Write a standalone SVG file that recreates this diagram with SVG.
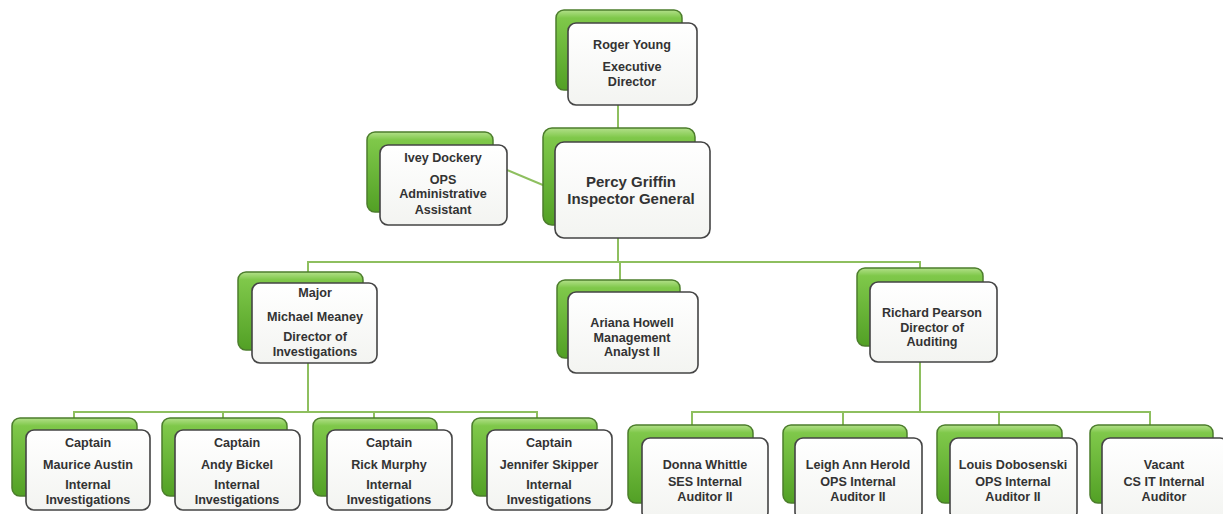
<svg xmlns="http://www.w3.org/2000/svg" width="1223" height="514" viewBox="0 0 1223 514">
<defs>
<linearGradient id="gg" x1="0" y1="0" x2="0" y2="1">
<stop offset="0" stop-color="#b3e08a"/>
<stop offset="0.1" stop-color="#7fc84a"/>
<stop offset="1" stop-color="#52a025"/>
</linearGradient>
<linearGradient id="wg" x1="0" y1="0" x2="0" y2="1">
<stop offset="0" stop-color="#ffffff"/>
<stop offset="1" stop-color="#f3f4f1"/>
</linearGradient>
</defs>
<style>
.g{fill:url(#gg);stroke:#4c7d2c;stroke-width:1.5}
.w{fill:url(#wg);stroke:#444;stroke-width:1.6}
.c{fill:none;stroke:#8ebf5f;stroke-width:2}
text{font-family:"Liberation Sans",Arial,sans-serif;font-weight:bold;font-size:12.6px;fill:#333;text-anchor:middle}
.big{font-size:15px}
</style>
<rect width="1223" height="514" fill="#ffffff"/>
<g id="connectors">
<line class="c" x1="618" y1="100" x2="618" y2="130"/>
<line class="c" x1="507" y1="170" x2="550" y2="188"/>
<polyline class="c" points="618,236 618,262"/>
<polyline class="c" points="308,274 308,262 920,262 920,270"/>
<line class="c" x1="620" y1="262" x2="620" y2="282"/>
<polyline class="c" points="308,360 308,412"/>
<polyline class="c" points="74,420 74,412 537,412 537,420"/>
<line class="c" x1="223" y1="412" x2="223" y2="420"/>
<line class="c" x1="374" y1="412" x2="374" y2="420"/>
<polyline class="c" points="920,360 920,412"/>
<polyline class="c" points="692,427 692,412 1150,412 1150,427"/>
<line class="c" x1="843" y1="412" x2="843" y2="427"/>
<line class="c" x1="999" y1="412" x2="999" y2="427"/>
</g>
<g id="roger">
<rect class="g" x="556" y="10" width="126" height="80" rx="8"/>
<rect class="w" x="568" y="23" width="129" height="82" rx="8"/>
<text x="632" y="49">Roger Young</text>
<text x="632" y="71">Executive</text>
<text x="632" y="86">Director</text>
</g>
<g id="percy">
<rect class="g" x="543" y="128" width="152" height="97" rx="9"/>
<rect class="w" x="555" y="142" width="155" height="96" rx="9"/>
<text class="big" x="631" y="187">Percy Griffin</text>
<text class="big" x="631" y="204">Inspector General</text>
</g>
<g id="ivey">
<rect class="g" x="367" y="132" width="126" height="80" rx="8"/>
<rect class="w" x="380" y="145" width="127" height="80" rx="8"/>
<text x="443" y="162">Ivey Dockery</text>
<text x="443" y="184">OPS</text>
<text x="443" y="198">Administrative</text>
<text x="443" y="214">Assistant</text>
</g>
<g id="major">
<rect class="g" x="238" y="272" width="125" height="78" rx="8"/>
<rect class="w" x="252" y="283" width="125" height="80" rx="8"/>
<text x="315" y="297">Major</text>
<text x="315" y="321">Michael Meaney</text>
<text x="315" y="341">Director of</text>
<text x="315" y="356">Investigations</text>
</g>
<g id="ariana">
<rect class="g" x="557" y="280" width="123" height="78" rx="8"/>
<rect class="w" x="568" y="292" width="130" height="81" rx="8"/>
<text x="632" y="327">Ariana Howell</text>
<text x="632" y="342">Management</text>
<text x="632" y="356">Analyst II</text>
</g>
<g id="richard">
<rect class="g" x="857" y="268" width="126" height="78" rx="8"/>
<rect class="w" x="870" y="282" width="127" height="80" rx="8"/>
<text x="932" y="317">Richard Pearson</text>
<text x="932" y="332">Director of</text>
<text x="932" y="346">Auditing</text>
</g>
<g id="maurice">
<rect class="g" x="12" y="418" width="125" height="78" rx="8"/>
<rect class="w" x="26" y="430" width="124" height="80" rx="8"/>
<text x="88" y="447">Captain</text>
<text x="88" y="469">Maurice Austin</text>
<text x="88" y="489">Internal</text>
<text x="88" y="504">Investigations</text>
</g>
<g id="andy">
<rect class="g" x="162" y="418" width="125" height="78" rx="8"/>
<rect class="w" x="175" y="430" width="125" height="80" rx="8"/>
<text x="237" y="447">Captain</text>
<text x="237" y="469">Andy Bickel</text>
<text x="237" y="489">Internal</text>
<text x="237" y="504">Investigations</text>
</g>
<g id="rick">
<rect class="g" x="313" y="418" width="124" height="78" rx="8"/>
<rect class="w" x="327" y="430" width="125" height="80" rx="8"/>
<text x="389" y="447">Captain</text>
<text x="389" y="469">Rick Murphy</text>
<text x="389" y="489">Internal</text>
<text x="389" y="504">Investigations</text>
</g>
<g id="jennifer">
<rect class="g" x="472" y="418" width="125" height="78" rx="8"/>
<rect class="w" x="487" y="430" width="125" height="80" rx="8"/>
<text x="549" y="447">Captain</text>
<text x="549" y="469">Jennifer Skipper</text>
<text x="549" y="489">Internal</text>
<text x="549" y="504">Investigations</text>
</g>
<g id="donna">
<rect class="g" x="628" y="425" width="125" height="78" rx="8"/>
<rect class="w" x="642" y="438" width="126" height="82" rx="8"/>
<text x="705" y="469">Donna Whittle</text>
<text x="705" y="486">SES Internal</text>
<text x="705" y="501">Auditor II</text>
</g>
<g id="leigh">
<rect class="g" x="783" y="425" width="124" height="78" rx="8"/>
<rect class="w" x="795" y="438" width="127" height="82" rx="8"/>
<text x="858" y="469">Leigh Ann Herold</text>
<text x="858" y="486">OPS Internal</text>
<text x="858" y="501">Auditor II</text>
</g>
<g id="louis">
<rect class="g" x="937" y="425" width="125" height="78" rx="8"/>
<rect class="w" x="950" y="438" width="127" height="82" rx="8"/>
<text x="1013" y="469">Louis Dobosenski</text>
<text x="1013" y="486">OPS Internal</text>
<text x="1013" y="501">Auditor II</text>
</g>
<g id="vacant">
<rect class="g" x="1090" y="425" width="123" height="78" rx="8"/>
<rect class="w" x="1102" y="438" width="126" height="82" rx="8"/>
<text x="1164" y="469">Vacant</text>
<text x="1164" y="486">CS IT Internal</text>
<text x="1164" y="501">Auditor</text>
</g>
</svg>
